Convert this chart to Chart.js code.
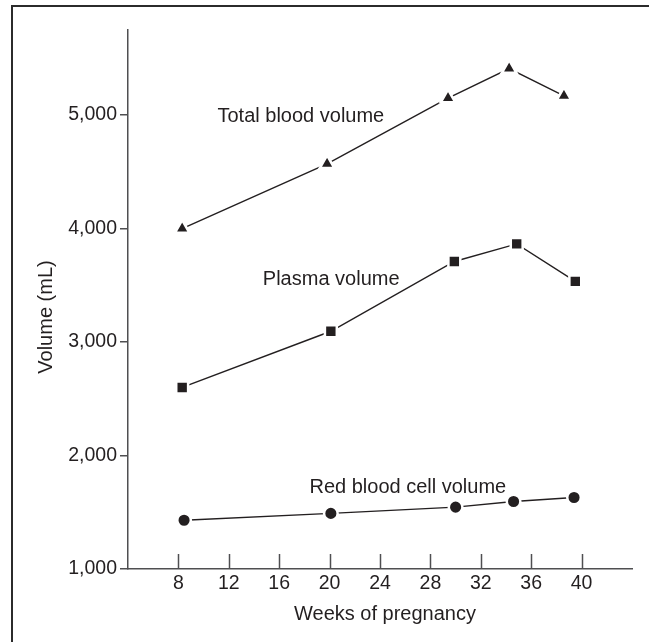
<!DOCTYPE html>
<html><head><meta charset="utf-8">
<script src="https://cdn.jsdelivr.net/npm/chart.js@4"></script>
<style>html,body{margin:0;padding:0;background:#fff}canvas{display:block}</style>
</head><body>
<canvas id="c" width="649" height="642"></canvas>
<script>
// ---- data ----
const weeksTotal   = [8.3, 19.8, 29.4, 34.25, 38.6];
const totalVolume  = [4000, 4570, 5150, 5410, 5170];
const weeksPlasma  = [8.3, 20.1, 29.9, 34.85, 39.5];
const plasmaVolume = [2600, 3095, 3710, 3865, 3535];
const weeksRbc     = [8.45, 20.1, 30.0, 34.6, 39.4];
const rbcVolume    = [1430, 1490, 1545, 1595, 1630];
const xTickValues  = [8, 12, 16, 20, 24, 28, 32, 36, 40];
const yTickValues  = [1000, 2000, 3000, 4000, 5000];
const seriesNames  = ['Total blood volume', 'Plasma volume', 'Red blood cell volume'];
const nameAnchorWeek   = [11.1, 14.7, 18.4];
const nameAnchorVolume = [4935, 3500, 1673];
const xTitle = 'Weeks of pregnancy';
const yTitle = 'Volume (mL)';

const INK = '#231f20';
const AXIS = '#4f4f51';
const FONT = '"Liberation Sans", Arial, Helvetica, sans-serif';
Chart.defaults.font.family = FONT;

const pts = (xs, ys) => xs.map((w, i) => ({x: w, y: ys[i]}));

const decor = {
  id: 'decor',
  beforeDraw(chart) {
    const ctx = chart.ctx;
    ctx.save();
    ctx.strokeStyle = '#2b2b2b';
    ctx.lineWidth = 2;
    ctx.beginPath();
    ctx.moveTo(12, 700); ctx.lineTo(12, 6); ctx.lineTo(700, 6);
    ctx.stroke();
    ctx.restore();
  },
  afterDraw(chart) {
    const {ctx, chartArea, scales: {x, y}} = chart;
    ctx.save();
    ctx.strokeStyle = AXIS; ctx.lineWidth = 1.5;
    xTickValues.forEach(v => {
      const px = Math.round(x.getPixelForValue(v)) + 0.5;
      ctx.beginPath(); ctx.moveTo(px, chartArea.bottom); ctx.lineTo(px, chartArea.bottom - 15); ctx.stroke();
    });
    ctx.fillStyle = INK;
    ctx.font = '20px ' + FONT;
    ctx.textAlign = 'left'; ctx.textBaseline = 'alphabetic';
    seriesNames.forEach((t, i) => ctx.fillText(t, x.getPixelForValue(nameAnchorWeek[i]), y.getPixelForValue(nameAnchorVolume[i])));
    ctx.textAlign = 'center';
    ctx.fillText(xTitle, (chartArea.left + chartArea.right) / 2 + 5, chartArea.bottom + 51);
    ctx.translate(chartArea.left - 76, 317);
    ctx.rotate(-Math.PI / 2);
    ctx.fillText(yTitle, 0, 0);
    ctx.restore();
  }
};

const common = {
  borderColor: INK, borderWidth: 1.4, pointBackgroundColor: INK,
  pointBorderColor: '#ffffff', pointBorderWidth: 2.5, showLine: true, fill: false, tension: 0
};

new Chart(document.getElementById('c'), {
  type: 'scatter',
  data: {
    datasets: [
      Object.assign({label: seriesNames[0], data: pts(weeksTotal, totalVolume), pointStyle: 'triangle', pointRadius: 8.4}, common),
      Object.assign({label: seriesNames[1], data: pts(weeksPlasma, plasmaVolume), pointStyle: 'rect', pointRadius: 8.4}, common),
      Object.assign({label: seriesNames[2], data: pts(weeksRbc, rbcVolume), pointStyle: 'circle', pointRadius: 6.8}, common)
    ]
  },
  options: {
    responsive: false, animation: false,
    layout: {padding: {top: 30, right: 17, left: 0, bottom: 0}},
    plugins: {legend: {display: false}, tooltip: {enabled: false}},
    scales: {
      x: {
        type: 'linear', min: 4, max: 44,
        afterBuildTicks: s => { s.ticks = xTickValues.map(v => ({value: v})); },
        afterFit: s => { s.height = 73; },
        grid: {display: true, drawOnChartArea: false, drawTicks: false, color: 'rgba(0,0,0,0)'},
        border: {display: true, color: AXIS, width: 1.5},
        ticks: {padding: 3, color: INK, font: {size: 19.5}, maxRotation: 0}
      },
      y: {
        type: 'linear', min: 1000, max: 5750,
        afterBuildTicks: s => { s.ticks = yTickValues.map(v => ({value: v})); },
        afterFit: s => { s.width = 128; },
        grid: {drawOnChartArea: false, drawTicks: true, tickLength: 8, color: AXIS, lineWidth: 1.5},
        border: {display: true, color: AXIS, width: 1.5},
        ticks: {padding: 3, color: INK, font: {size: 19.5}, callback: v => v.toLocaleString('en-US')}
      }
    }
  },
  plugins: [decor]
});
</script>
</body></html>
